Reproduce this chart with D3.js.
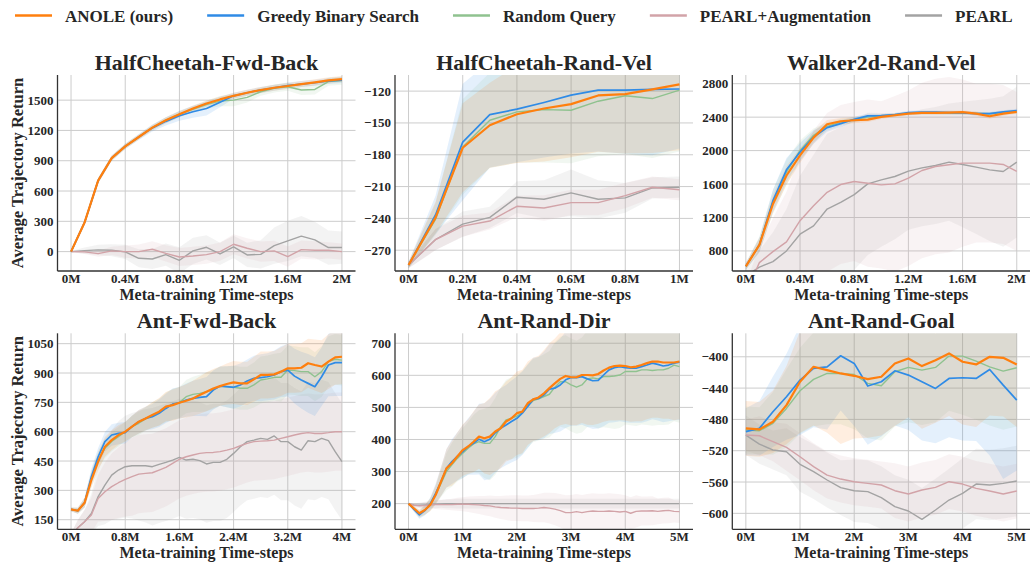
<!DOCTYPE html>
<html>
<head>
<meta charset="utf-8">
<script src="https://cdn.jsdelivr.net/npm/d3@7"></script>
<style>
  body { margin: 0; background: #fff; }
  text { font-family: "Liberation Serif", "Times New Roman", serif; font-weight: bold; fill: #262626; }
</style>
</head>
<body>
<svg id="chart" width="1030" height="562"></svg>
<script>
// ---- series ----
const legendKeys = ["anole", "greedy", "random", "pearlAug", "pearl"];
const legendLabels = ["ANOLE (ours)", "Greedy Binary Search", "Random Query", "PEARL+Augmentation", "PEARL"];
const drawOrder = ["pearl", "pearlAug", "random", "greedy", "anole"];
const colors = { anole: "#ff7f0e", greedy: "#2f8be6", random: "#8fc28f", pearlAug: "#d2a3a8", pearl: "#a3a3a3" };
const widths = { anole: 2.2, greedy: 1.7, random: 1.4, pearlAug: 1.4, pearl: 1.4 };

// ---- HalfCheetah-Fwd-Back (every 0.1M) ----
const hcfbAnole = [0,289,703,926,1042,1135,1228,1301,1361,1417,1467,1507,1543,1573,1600,1623,1640,1659,1676,1696,1709];
const hcfbGreedy = [0,289,703,926,1042,1135,1225,1290,1345,1385,1417,1480,1543,1573,1600,1623,1645,1659,1672,1690,1699];
const hcfbRandom = [0,289,703,926,1042,1135,1228,1301,1361,1410,1455,1490,1500,1527,1583,1616,1633,1600,1606,1683,1693];
const hcfbPearlAug = [0,-3,-20,7,0,0,23,-17,-53,-43,-30,0,73,33,0,7,-50,20,13,13,0];
const hcfbPearl = [0,10,17,13,-3,-66,-73,-30,-86,7,43,-23,46,-33,-27,60,106,153,116,40,40];
const hcfbAnoleSd = [8,20,25,25,25,25,25,30,30,30,30,30,30,30,30,30,30,30,30,30,30];
const hcfbGreedySd = [8,20,25,25,25,30,35,40,50,60,70,50,30,30,30,30,30,30,30,30,30];
const hcfbRandomSd = [8,20,25,25,25,25,25,30,30,30,40,50,60,50,40,40,40,50,50,40,40];
const hcfbPearlAugSd = [5,20,30,40,60,70,80,80,90,90,90,90,100,100,100,100,100,90,90,80,80];
const hcfbPearlSd = [5,30,50,60,70,90,100,110,130,130,120,110,110,120,140,180,200,200,180,170,160];
const hcfbXTicks = [0, 0.4, 0.8, 1.2, 1.6, 2];
const hcfbXLabels = ["0M", "0.4M", "0.8M", "1.2M", "1.6M", "2M"];
const hcfbYTicks = [0, 300, 600, 900, 1200, 1500];

// ---- HalfCheetah-Rand-Vel (every 0.1M) ----
const hcrvAnole = [-284,-239,-173.4,-152.2,-141.8,-136.4,-132.3,-124.1,-122.8,-118.4,-113.7];
const hcrvGreedy = [-284,-236.5,-168,-142.1,-137,-130.7,-123.8,-119,-119,-118.4,-118];
const hcrvRandom = [-284,-240.6,-172.7,-147.5,-139.6,-137.4,-138,-129.5,-124.4,-127,-119];
const hcrvPearlAug = [-284,-259.9,-247.3,-242.5,-228.6,-230.2,-225.1,-225.1,-218.5,-210.6,-213];
const hcrvPearl = [-284,-259.9,-245.4,-239,-220,-222,-216,-222,-220.7,-211.3,-210.6];
const hcrvAnoleSd = [3,15,42,40,46,50,50,53,56,60,62];
const hcrvGreedySd = [3,18,55,50,50,52,55,58,60,62,56];
const hcrvRandomSd = [3,15,45,45,48,50,50,52,55,56,58];
const hcrvPearlAugSd = [3,10,10,8,10,12,12,12,12,10,10];
const hcrvPearlSd = [3,10,12,10,15,18,22,18,14,10,10];
const hcrvXTicks = [0, 0.2, 0.4, 0.6, 0.8, 1];
const hcrvXLabels = ["0M", "0.2M", "0.4M", "0.6M", "0.8M", "1M"];
const hcrvYTicks = [-270, -240, -210, -180, -150, -120];

// ---- Walker2d-Rand-Vel (every 0.1M) ----
const w2dAnole = [616,872,1361,1702,1942,2155,2315,2351,2363,2371,2403,2423,2443,2451,2451,2455,2459,2443,2411,2443,2463];
const w2dGreedy = [616,872,1401,1770,1982,2163,2275,2323,2375,2415,2419,2431,2455,2459,2459,2455,2451,2443,2443,2463,2479];
const w2dRandom = [616,880,1390,1742,2002,2183,2290,2340,2370,2400,2415,2430,2445,2450,2450,2450,2445,2445,2440,2455,2465];
const w2dPearlAug = [300,660,792,908,1161,1341,1501,1594,1630,1610,1590,1602,1670,1762,1810,1830,1850,1850,1850,1834,1750];
const w2dPearl = [500,607,672,800,1000,1100,1301,1381,1473,1602,1650,1690,1754,1794,1822,1862,1834,1802,1770,1750,1862];
const w2dAnoleSd = [40,80,110,110,90,70,50,40,35,30,25,20,20,20,20,20,20,25,30,25,20];
const w2dGreedySd = [40,90,130,140,110,80,50,40,30,25,20,20,20,20,20,20,20,20,20,20,20];
const w2dRandomSd = [40,90,140,150,120,80,50,40,30,25,20,20,20,20,20,20,20,20,20,20,20];
const w2dPearlAugSd = [100,200,400,600,800,900,950,950,950,1000,1000,1050,1050,1050,1050,1050,1000,950,950,950,950];
const w2dPearlSd = [100,200,350,500,700,850,900,900,900,850,800,750,700,700,700,700,750,800,850,900,900];
const w2dXTicks = [0, 0.4, 0.8, 1.2, 1.6, 2];
const w2dXLabels = ["0M", "0.4M", "0.8M", "1.2M", "1.6M", "2M"];
const w2dYTicks = [800, 1200, 1600, 2000, 2400, 2800];

// ---- Ant-Fwd-Back (every 0.1M) ----
const afbAnole = [203,196,237,353,447,523,557,583,600,626,651,668,685,702,728,736,748,758,770,787,804,821,833,844,852,847,847,868,890,890,893,907,924,924,927,950,941,933,958,980,983];
const afbGreedy = [203,196,237,370,472,549,583,591,595,626,651,668,677,694,719,741,748,762,770,775,779,813,833,830,827,839,859,873,876,881,890,907,915,884,864,847,830,881,941,953,953];
const afbRandom = [203,196,237,360,455,515,550,574,600,626,643,665,685,700,725,740,750,779,791,796,804,815,833,830,827,822,822,839,864,870,878,878,915,912,907,907,881,907,958,970,966];
const afbPearlAug = [60,109,140,174,259,293,319,339,356,370,383,387,390,404,418,438,459,472,481,489,493,494,498,506,515,528,540,549,552,554,557,566,574,583,591,595,591,591,595,600,600];
const afbPearl = [60,109,140,182,268,327,378,404,421,426,426,426,421,433,443,455,469,455,459,452,435,443,443,459,489,523,549,557,566,561,578,549,549,523,506,554,549,566,554,498,447];
const afbAnoleSd = [10,15,25,40,45,50,50,50,50,55,60,60,65,70,75,80,80,85,90,95,100,100,100,105,110,110,110,115,120,120,120,125,125,125,125,125,130,135,140,140,140];
const afbGreedySd = [10,15,25,40,45,50,55,55,55,55,60,60,65,70,75,80,80,85,90,95,100,100,100,105,110,110,110,115,120,120,125,130,135,140,145,150,150,150,160,170,170];
const afbRandomSd = [10,15,25,40,45,50,50,50,50,55,60,60,65,70,75,80,80,85,90,95,100,100,100,105,110,110,110,115,120,120,120,125,125,125,125,125,125,130,130,130,130];
const afbPearlAugSd = [20,40,60,90,120,150,170,180,190,200,200,200,200,200,200,200,200,200,200,200,200,200,200,200,200,200,200,200,200,200,200,200,200,200,200,200,200,200,200,200,200];
const afbPearlSd = [20,40,60,100,150,200,230,250,260,270,280,290,300,300,300,300,300,300,300,300,300,300,300,300,300,300,300,300,300,300,300,300,300,300,300,300,300,300,300,300,300];
const afbXTicks = [0, 0.8, 1.6, 2.4, 3.2, 4];
const afbXLabels = ["0M", "0.8M", "1.6M", "2.4M", "3.2M", "4M"];
const afbYTicks = [150, 300, 450, 600, 750, 900, 1050];

// ---- Ant-Rand-Dir (every 0.1M) ----
const ardAnole = [200,185,170,180,196,227,269,310,326,347,367,378,393,409,404,409,425,435,456,466,482,487,513,525,531,544,560,575,589,598,594,594,601,601,600,604,615,624,629,630,629,625,627,632,638,643,643,640,640,640,643];
const ardGreedy = [200,182,165,178,199,232,269,310,331,347,362,378,388,401,393,401,421,435,445,456,466,482,503,525,528,539,557,560,570,586,593,593,596,589,583,584,601,617,624,627,624,622,622,627,632,638,634,629,632,638,641];
const ardRandom = [200,185,168,180,197,227,263,300,321,341,357,373,386,393,388,388,409,440,461,466,473,484,505,521,527,534,541,563,580,580,570,563,570,589,592,589,596,596,598,601,612,612,612,617,617,615,617,617,622,632,627];
const ardPearlAug = [200,195,193,194,196,197,197,197,197,198,198,198,197,196,194,193,190,188,187,186,186,185,185,185,186,188,186,183,178,172,172,175,172,175,177,176,176,177,176,174,176,170,176,177,177,178,176,178,179,176,175];
const ardPearl = [200,196,195,196,197,198,199,200,200,200,200,200,200,200,200,200,200,200,200,200,200,200,200,200,200,200,200,200,200,200,200,200,200,200,200,200,200,200,200,200,200,200,200,200,200,200,200,200,200,200,200];
const ardAnoleSd = [2,8,12,15,20,30,45,60,70,75,80,85,95,100,110,120,125,125,125,128,130,130,130,130,130,135,140,140,145,150,150,150,150,155,155,155,160,165,170,170,170,170,170,175,175,175,175,175,175,180,180];
const ardGreedySd = [2,8,12,15,20,30,45,60,70,75,82,88,98,110,120,125,125,125,125,128,130,130,130,130,130,135,140,140,145,150,150,150,150,150,150,150,160,165,170,170,170,170,170,175,175,175,175,175,175,178,180];
const ardRandomSd = [2,8,12,15,20,28,42,58,68,72,78,82,90,98,108,115,120,122,125,128,130,130,130,130,130,132,135,140,140,145,145,145,148,150,152,155,158,160,165,165,165,168,170,170,172,172,172,172,175,175,175];
const ardPearlAugSd = [2,5,8,10,12,14,15,16,18,20,22,24,26,28,30,32,34,36,38,40,40,40,40,42,44,46,48,50,52,54,55,55,55,55,55,55,55,55,55,55,50,50,50,45,45,45,40,40,40,35,35];
const ardPearlSd = [2,5,8,10,10,12,12,14,14,15,15,15,15,15,15,15,15,15,15,15,15,15,15,15,15,15,15,15,15,15,15,15,15,15,15,15,15,15,15,15,15,15,15,15,15,15,15,15,15,15,15];
const ardXTicks = [0, 1, 2, 3, 4, 5];
const ardXLabels = ["0M", "1M", "2M", "3M", "4M", "5M"];
const ardYTicks = [200, 300, 400, 500, 600, 700];

// ---- Ant-Rand-Goal (every 0.25M) ----
const argAnole = [-491.5,-492.8,-483,-461.7,-431.9,-412.8,-417,-421.3,-424.3,-428.5,-425.5,-408.5,-402.1,-411.9,-404.3,-395.7,-406.4,-409.8,-400,-401.3,-409.8];
const argGreedy = [-495.7,-491.5,-470.2,-451,-429.8,-414.9,-412.8,-398.7,-408.5,-437.4,-431.9,-417.9,-423.4,-431.9,-440.4,-427.7,-426.8,-427.7,-416.2,-436.2,-455.3];
const argRandom = [-493.6,-494.5,-485.1,-466,-443.4,-428.9,-421.3,-421.3,-422.6,-434,-437,-419.1,-413.6,-417,-413.6,-399.1,-399.1,-405.5,-412.8,-418.3,-414];
const argPearlAug = [-500,-500.9,-508.5,-515.7,-527.7,-540.4,-551.1,-556.2,-559.6,-561.7,-563.8,-571.1,-575.3,-570.2,-566.8,-559.6,-562.6,-568.1,-571.5,-575.3,-571.5];
const argPearl = [-500,-511.5,-519.1,-521.3,-537.4,-546.8,-557.4,-567.2,-571.1,-572.3,-580,-591.5,-597,-607.7,-595.7,-583,-574.5,-562.6,-563.8,-561.7,-558.7];
const argAnoleSd = [35,35,40,50,65,75,80,90,80,75,75,80,75,80,80,80,80,80,75,75,80];
const argGreedySd = [30,35,45,55,70,75,80,70,80,75,70,70,70,75,70,75,80,80,110,120,90];
const argRandomSd = [30,30,40,50,55,60,65,65,70,70,70,70,70,70,70,70,75,75,75,75,75];
const argPearlAugSd = [20,25,25,30,30,30,30,30,30,30,30,35,35,35,35,35,35,35,35,35,35];
const argPearlSd = [25,25,25,30,35,35,35,35,40,40,40,40,40,40,40,40,45,45,45,45,45];
const argXTicks = [0, 1, 2, 3, 4, 5];
const argXLabels = ["0M", "1M", "2M", "3M", "4M", "5M"];
const argYTicks = [-600, -560, -520, -480, -440, -400];

// ---- panels ----
const panels = [
  { title: "HalfCheetah-Fwd-Back", row: 0, col: 0, step: 0.1, yDom: [-192, 1749],
    xTicks: hcfbXTicks, xLabels: hcfbXLabels, yTicks: hcfbYTicks,
    mean: { anole: hcfbAnole, greedy: hcfbGreedy, random: hcfbRandom, pearlAug: hcfbPearlAug, pearl: hcfbPearl },
    sd: { anole: hcfbAnoleSd, greedy: hcfbGreedySd, random: hcfbRandomSd, pearlAug: hcfbPearlAugSd, pearl: hcfbPearlSd } },
  { title: "HalfCheetah-Rand-Vel", row: 0, col: 1, step: 0.1, yDom: [-289.6, -104.8],
    xTicks: hcrvXTicks, xLabels: hcrvXLabels, yTicks: hcrvYTicks,
    mean: { anole: hcrvAnole, greedy: hcrvGreedy, random: hcrvRandom, pearlAug: hcrvPearlAug, pearl: hcrvPearl },
    sd: { anole: hcrvAnoleSd, greedy: hcrvGreedySd, random: hcrvRandomSd, pearlAug: hcrvPearlAugSd, pearl: hcrvPearlSd } },
  { title: "Walker2d-Rand-Vel", row: 0, col: 2, step: 0.1, yDom: [560, 2904],
    xTicks: w2dXTicks, xLabels: w2dXLabels, yTicks: w2dYTicks,
    mean: { anole: w2dAnole, greedy: w2dGreedy, random: w2dRandom, pearlAug: w2dPearlAug, pearl: w2dPearl },
    sd: { anole: w2dAnoleSd, greedy: w2dGreedySd, random: w2dRandomSd, pearlAug: w2dPearlAugSd, pearl: w2dPearlSd } },
  { title: "Ant-Fwd-Back", row: 1, col: 0, step: 0.1, yDom: [101, 1103],
    xTicks: afbXTicks, xLabels: afbXLabels, yTicks: afbYTicks,
    mean: { anole: afbAnole, greedy: afbGreedy, random: afbRandom, pearlAug: afbPearlAug, pearl: afbPearl },
    sd: { anole: afbAnoleSd, greedy: afbGreedySd, random: afbRandomSd, pearlAug: afbPearlAugSd, pearl: afbPearlSd } },
  { title: "Ant-Rand-Dir", row: 1, col: 1, step: 0.1, yDom: [120, 731],
    xTicks: ardXTicks, xLabels: ardXLabels, yTicks: ardYTicks,
    mean: { anole: ardAnole, greedy: ardGreedy, random: ardRandom, pearlAug: ardPearlAug, pearl: ardPearl },
    sd: { anole: ardAnoleSd, greedy: ardGreedySd, random: ardRandomSd, pearlAug: ardPearlAugSd, pearl: ardPearlSd } },
  { title: "Ant-Rand-Goal", row: 1, col: 2, step: 0.25, yDom: [-620.4, -370],
    xTicks: argXTicks, xLabels: argXLabels, yTicks: argYTicks,
    mean: { anole: argAnole, greedy: argGreedy, random: argRandom, pearlAug: argPearlAug, pearl: argPearl },
    sd: { anole: argAnoleSd, greedy: argGreedySd, random: argRandomSd, pearlAug: argPearlAugSd, pearl: argPearlSd } }
];

// layout
const colLeft = [57.5, 395, 732.3];
const axW = 298;
const rowTop = [75, 333.3];
const axH = 196;
const fmtNum = d => d < 0 ? "\u2212" + Math.abs(d) : String(d);

const svg = d3.select("#chart");

panels.forEach((p, pi) => {
  const left = colLeft[p.col], top = rowTop[p.row];
  const right = left + axW, bottom = top + axH;
  const n = p.mean.anole.length;
  const xMax = p.step * (n - 1);
  const x = d3.scaleLinear().domain([-0.05 * xMax, 1.05 * xMax]).range([left, right]);
  const y = d3.scaleLinear().domain(p.yDom).range([bottom, top]);

  const g = svg.append("g");

  // grid
  g.append("g").selectAll("line").data(p.xTicks).join("line")
    .attr("x1", d => x(d)).attr("x2", d => x(d)).attr("y1", top).attr("y2", bottom)
    .attr("stroke", "#cccccc").attr("stroke-width", 1);
  g.append("g").selectAll("line").data(p.yTicks).join("line")
    .attr("x1", left).attr("x2", right).attr("y1", d => y(d)).attr("y2", d => y(d))
    .attr("stroke", "#cccccc").attr("stroke-width", 1);

  // clip to the axes box
  const clipId = "clip" + pi;
  svg.append("clipPath").attr("id", clipId).append("rect")
    .attr("x", left).attr("y", top).attr("width", axW).attr("height", axH);
  const plot = g.append("g").attr("clip-path", `url(#${clipId})`);

  // shaded bands
  drawOrder.forEach(k => {
    const m = p.mean[k], s = p.sd[k];
    const area = d3.area()
      .x((d, i) => x(i * p.step))
      .y0((d, i) => y(d - s[i]))
      .y1((d, i) => y(d + s[i]));
    plot.append("path").datum(m).attr("d", area)
      .attr("fill", colors[k]).attr("fill-opacity", 0.13).attr("stroke", "none");
  });

  // mean lines
  drawOrder.forEach(k => {
    const line = d3.line().x((d, i) => x(i * p.step)).y(d => y(d));
    plot.append("path").datum(p.mean[k]).attr("d", line)
      .attr("fill", "none").attr("stroke", colors[k])
      .attr("stroke-width", widths[k]).attr("stroke-linejoin", "round");
  });

  // spines
  g.append("line").attr("x1", left).attr("x2", left).attr("y1", top).attr("y2", bottom)
    .attr("stroke", "#333").attr("stroke-width", 1.3);
  g.append("line").attr("x1", left).attr("x2", right).attr("y1", bottom).attr("y2", bottom)
    .attr("stroke", "#333").attr("stroke-width", 1.3);

  // tick labels
  g.append("g").selectAll("text").data(p.yTicks).join("text")
    .attr("x", left - 4).attr("y", d => y(d)).attr("dy", "0.35em")
    .attr("text-anchor", "end").style("font-size", "13px")
    .text(fmtNum);
  g.append("g").selectAll("text").data(p.xTicks).join("text")
    .attr("x", d => x(d)).attr("y", bottom + 12)
    .attr("text-anchor", "middle").style("font-size", "13px")
    .text((d, i) => p.xLabels[i]);

  // titles and axis labels
  g.append("text").attr("x", (left + right) / 2).attr("y", top - 5)
    .attr("text-anchor", "middle").style("font-size", "22px").text(p.title);
  g.append("text").attr("x", (left + right) / 2).attr("y", bottom + 29)
    .attr("text-anchor", "middle").style("font-size", "16px").text("Meta-training Time-steps");
  if (p.col === 0) {
    g.append("text").attr("transform", `translate(23,${(top + bottom) / 2}) rotate(-90)`)
      .attr("text-anchor", "middle").style("font-size", "16.5px").text("Average Trajectory Return");
  }
});

// legend
const legend = svg.append("g");
let lx = 15;
legendKeys.forEach((k, i) => {
  legend.append("line").attr("x1", lx).attr("x2", lx + 37).attr("y1", 15.5).attr("y2", 15.5)
    .attr("stroke", colors[k]).attr("stroke-width", 2.4);
  const t = legend.append("text").attr("x", lx + 50).attr("y", 22)
    .style("font-size", "17px").text(legendLabels[i]);
  lx += 50 + t.node().getComputedTextLength() + 34;
});
</script>
</body>
</html>
